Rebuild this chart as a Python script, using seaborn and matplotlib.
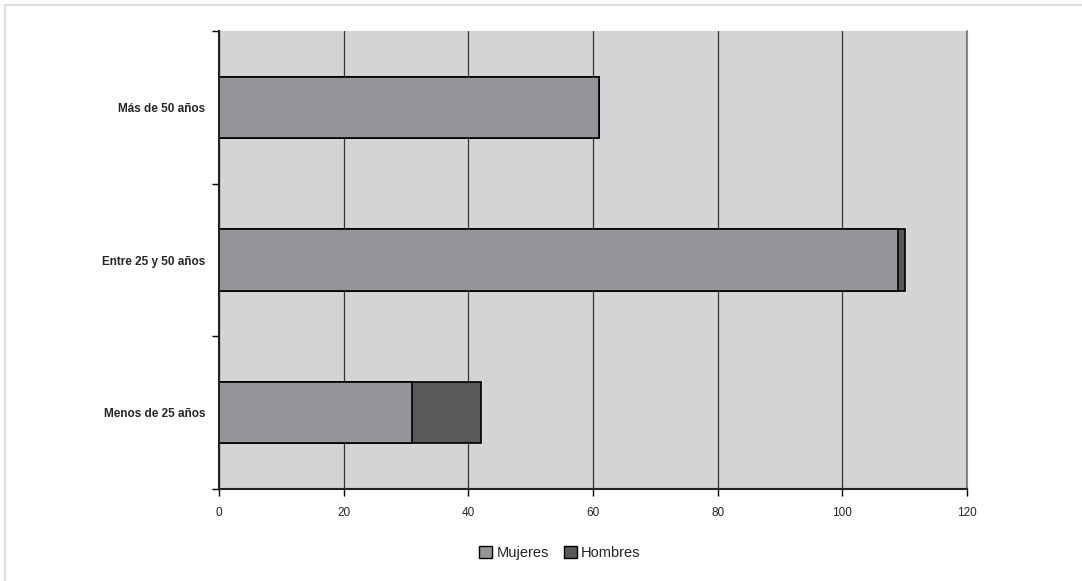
import matplotlib
matplotlib.use("Agg")
import matplotlib.pyplot as plt
from matplotlib.patches import Patch
import seaborn as sns
import pandas as pd

sns.set_theme(style="white")
plt.rcParams['font.family'] = ['Liberation Sans Narrow', 'Liberation Sans', 'DejaVu Sans']

categorias = ["Más de 50 años", "Entre 25 y 50 años", "Menos de 25 años"]
mujeres = [61, 109, 31]
hombres = [0, 1, 11]
xticks = [0, 20, 40, 60, 80, 100, 120]

c_muj = "#949598"
c_hom = "#58595b"

df = pd.DataFrame({"grupo": categorias, "Mujeres": mujeres, "Hombres": hombres})
df["total"] = df["Mujeres"] + df["Hombres"]

fig = plt.figure(figsize=(10.82, 5.81), dpi=100)
ax = fig.add_axes([219 / 1082, 1 - 489 / 581, (967 - 219) / 1082, (489 - 31) / 581])
ax.set_facecolor("#d3d4d6")

# total first (Hombres colour), Mujeres drawn on top -> stacked look
sns.barplot(data=df, y="grupo", x="total", orient="h", color=c_hom, width=0.4,
            edgecolor="black", linewidth=1.2, saturation=1, ax=ax)
sns.barplot(data=df, y="grupo", x="Mujeres", orient="h", color=c_muj, width=0.4,
            edgecolor="black", linewidth=1.2, saturation=1, ax=ax)

ax.set_xlim(0, 120)
ax.set_ylim(2.5, -0.5)
ax.set_xticks(xticks)
ax.set_xticklabels([str(t) for t in xticks], fontsize=8.5)
ax.xaxis.grid(True, color="#333333", linewidth=0.9)
ax.set_axisbelow(True)
ax.axvline(120, color="#8a8a8c", linewidth=1.5, clip_on=False, zorder=0.5)

ax.set_yticks([-0.5, 0.5, 1.5, 2.5])
ax.set_yticklabels([])
ax.set_yticks(range(len(categorias)), minor=True)
ax.set_yticklabels(categorias, minor=True, fontsize=8.5, fontweight="bold")
ax.tick_params(axis="y", which="minor", length=0, pad=10)
ax.tick_params(axis="y", which="major", direction="out", length=5, width=1, color="black", left=True)
ax.tick_params(axis="x", direction="out", length=5, width=1, color="black", bottom=True, pad=8)
ax.set_xlabel("")
ax.set_ylabel("")

for s in ["top", "right"]:
    ax.spines[s].set_visible(False)
for s in ["left", "bottom"]:
    ax.spines[s].set_color("#222222")
    ax.spines[s].set_linewidth(1.5)

handles = [Patch(facecolor=c_muj, edgecolor="black", label="Mujeres"),
           Patch(facecolor=c_hom, edgecolor="black", label="Hombres")]
fig.legend(handles=handles, loc="center", bbox_to_anchor=(560 / 1082, 1 - 553 / 581), ncol=2,
           frameon=False, fontsize=10.5, handlelength=0.9, handleheight=0.9,
           handletextpad=0.3, columnspacing=1.0)

# light frame (left and top edges only)
fig.add_artist(plt.Line2D([5 / 1082, 5 / 1082, 1.0],
                          [0, 1 - 5 / 581, 1 - 5 / 581],
                          transform=fig.transFigure, color="#dddddd", linewidth=1.5))

fig.savefig("out.png", dpi=100)
